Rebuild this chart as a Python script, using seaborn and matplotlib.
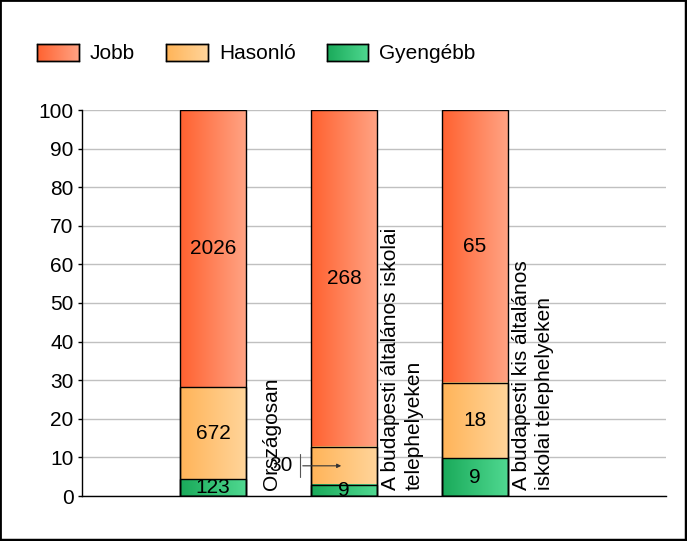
import numpy as np
import pandas as pd
import seaborn as sns
import matplotlib.pyplot as plt
from matplotlib.colors import to_rgb
from matplotlib.patches import Patch, Rectangle

categories = ['Országosan',
              'A budapesti általános iskolai\ntelephelyeken',
              'A budapesti kis általános\niskolai telephelyeken']
jobb = [2026, 268, 65]
hasonlo = [672, 30, 18]
gyengebb = [123, 9, 9]
series = ['Jobb', 'Hasonló', 'Gyengébb']

colors = {'Jobb': ('#FF6230', '#FFA283'),
          'Hasonló': ('#FFB458', '#FFD49A'),
          'Gyengébb': ('#1AAA5A', '#4FD890')}

sns.set_style('white')
plt.rcParams['font.family'] = ['Liberation Sans', 'DejaVu Sans']
plt.rcParams['text.color'] = 'black'
plt.rcParams['ytick.color'] = 'black'
plt.rcParams['ytick.labelcolor'] = 'black'
FS = 15

df = pd.DataFrame({'cat': categories, 'Jobb': jobb, 'Hasonló': hasonlo, 'Gyengébb': gyengebb})
total = df[series].sum(axis=1)
pct = df[series].div(total, axis=0) * 100
# cumulative tops for overlapping bars
df['top_j'] = pct['Jobb'] + pct['Hasonló'] + pct['Gyengébb']
df['top_h'] = pct['Hasonló'] + pct['Gyengébb']
df['top_g'] = pct['Gyengébb']

fig = plt.figure(figsize=(6.87, 5.41), dpi=100)
ax = fig.add_axes([82 / 687, 1 - 496 / 541, 584 / 687, 386 / 541])

for col, s in zip(['top_j', 'top_h', 'top_g'], series):
    sns.barplot(data=df, x='cat', y=col, color=colors[s][0], width=0.5,
                saturation=1, ax=ax)


def gradient(c0, c1, n=64):
    a, b = np.array(to_rgb(c0)), np.array(to_rgb(c1))
    t = np.linspace(0, 1, n)[:, None]
    return ((1 - t) * a + t * b)[None, :, :]


for k, p in enumerate(ax.patches):
    s = series[k // 3]
    x0, y0 = p.get_x(), p.get_y()
    w, h = p.get_width(), p.get_height()
    ax.imshow(gradient(*colors[s]), extent=[x0, x0 + w, y0, y0 + h],
              aspect='auto', interpolation='bilinear', zorder=2 + 0.1 * (k // 3))
    p.set_facecolor('none')
    p.set_edgecolor('black')
    p.set_linewidth(1)
    p.set_zorder(3)

# segment value labels
for i in range(3):
    g = pct['Gyengébb'][i]
    hs = pct['Hasonló'][i]
    mids = {'Gyengébb': g / 2, 'Hasonló': g + hs / 2, 'Jobb': g + hs + pct['Jobb'][i] / 2}
    for s in series:
        val = df[s][i]
        if i == 1 and s == 'Hasonló':
            y = mids[s]
            ax.annotate('', xy=(1.0, y), xytext=(0.664, y),
                        arrowprops=dict(arrowstyle='-|>', color='#333333', lw=0.8,
                                        mutation_scale=6), zorder=5)
            ax.plot([0.664, 0.664], [y - 3, y + 3], color='#555555', lw=0.8, zorder=5)
            ax.text(0.52, y, str(val), ha='center', va='center', fontsize=FS, zorder=5)
        else:
            ax.text(i, mids[s], str(val), ha='center', va='center', fontsize=FS, zorder=5)
    ax.text(i + 0.445, 1.5, categories[i], rotation=90, ha='center', va='bottom',
            multialignment='left', fontsize=FS, linespacing=1.25, zorder=5)

ax.set_xlim(-1.0, 3.458)
ax.set_ylim(0, 100)
ax.set_yticks(range(0, 101, 10))
ax.set_xticks([])
ax.set_xlabel('')
ax.set_ylabel('')
ax.tick_params(axis='y', labelsize=FS, length=3, width=1, color='black', left=True, pad=3)
ax.grid(axis='y', color='#C0C0C0', lw=1)
ax.set_axisbelow(True)
for sp in ['top', 'right']:
    ax.spines[sp].set_visible(False)
for sp in ['left', 'bottom']:
    ax.spines[sp].set_color('black')
    ax.spines[sp].set_linewidth(1)
    ax.spines[sp].set_zorder(4)

handles = [Patch(facecolor='none', edgecolor='black', label=s) for s in series]
leg = fig.legend(handles=handles, loc='center left', bbox_to_anchor=(37 / 687, 1 - 53.5 / 541),
                 ncol=3, frameon=False, fontsize=FS, handlelength=2.0, handleheight=0.9,
                 handletextpad=0.53, columnspacing=1.5, borderpad=0, borderaxespad=0)

fig.canvas.draw()
inv = fig.transFigure.inverted()
for p, s in zip(leg.get_patches(), series):
    bb = p.get_window_extent().transformed(inv)
    la = fig.add_axes(bb.bounds)
    la.imshow(gradient(*colors[s]), aspect='auto', extent=[0, 1, 0, 1], interpolation='bilinear')
    la.set_xticks([])
    la.set_yticks([])
    for sp in la.spines.values():
        sp.set_color('black')
        sp.set_linewidth(1)

fig.patches.append(Rectangle((0, 0), 1, 1, transform=fig.transFigure, fill=False,
                             edgecolor='black', lw=2))
fig.lines.append(plt.Line2D([1 - 1.5 / 687] * 2, [0, 1], transform=fig.transFigure,
                            color='black', lw=2.5))
fig.lines.append(plt.Line2D([0, 1], [1.5 / 541] * 2, transform=fig.transFigure,
                            color='black', lw=2.5))

fig.savefig('out.png', dpi=100)
